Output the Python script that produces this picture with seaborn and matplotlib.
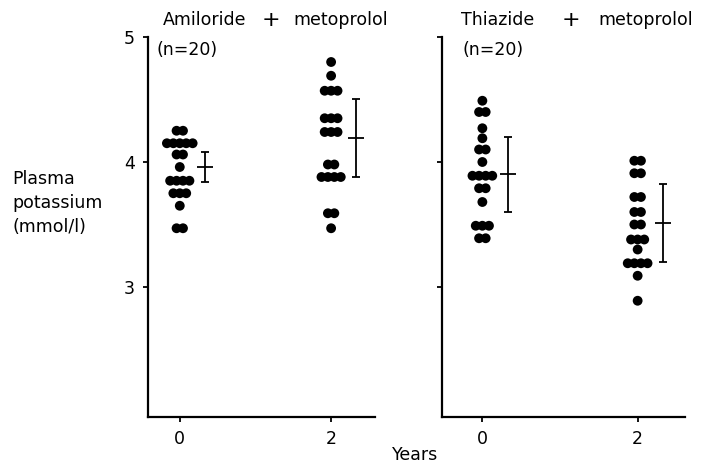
import numpy as np
import pandas as pd
import matplotlib.pyplot as plt
import seaborn as sns

sns.set_theme(style="ticks")
plt.rcParams["font.family"] = ["DejaVu Sans"]
plt.rcParams.update({"text.color": "black", "axes.edgecolor": "black",
                     "xtick.color": "black", "ytick.color": "black",
                     "axes.labelcolor": "black"})

# ---------------------------------------------------------------------------
# data (plasma potassium, mmol/l)
# ---------------------------------------------------------------------------
years = [0, 2]

amil_y0 = [4.25, 4.25, 4.15, 4.15, 4.15, 4.15, 4.15, 4.06, 4.06, 3.96,
           3.85, 3.85, 3.85, 3.85, 3.75, 3.75, 3.75, 3.65, 3.47, 3.47]
amil_y2 = [4.80, 4.69, 4.57, 4.57, 4.57, 4.35, 4.35, 4.35, 4.24, 4.24,
           4.24, 3.98, 3.98, 3.88, 3.88, 3.88, 3.88, 3.59, 3.59, 3.47]
amil_mean = [3.96, 4.19]
amil_sd = [0.12, 0.31]

thia_y0 = [4.49, 4.40, 4.40, 4.27, 4.19, 4.10, 4.10, 4.00, 3.89, 3.89,
           3.89, 3.89, 3.79, 3.79, 3.68, 3.49, 3.49, 3.49, 3.39, 3.39]
thia_y2 = [4.01, 4.01, 3.91, 3.91, 3.72, 3.72, 3.60, 3.60, 3.50, 3.50,
           3.38, 3.38, 3.38, 3.30, 3.19, 3.19, 3.19, 3.19, 3.09, 2.89]
thia_mean = [3.90, 3.51]
thia_sd = [0.30, 0.31]

STEP = 0.085      # spacing of tied dots within a row
BAR_SHIFT = 0.33  # mean +/- sd drawn to the right of the dots


def dot_frame(values, year):
    # tied values sit side by side, centred on the year
    d = pd.DataFrame({"value": values})
    n = d.groupby("value")["value"].transform("size")
    i = d.groupby("value").cumcount()
    d["x"] = year + (i - (n - 1) / 2) * STEP
    return d


W, H = 701, 466
fig = plt.figure(figsize=(W / 100, H / 100), dpi=100)
ax_l = fig.add_axes([148 / W, 1 - 417 / H, 227 / W, 380 / H])
ax_r = fig.add_axes([442 / W, 1 - 417 / H, 243 / W, 380 / H])

panels = [
    (ax_l, amil_y0, amil_y2, amil_mean, amil_sd, (-0.42, 2.58)),
    (ax_r, thia_y0, thia_y2, thia_mean, thia_sd, (-0.52, 2.61)),
]

for ax, y0, y2, means, sds, xlim in panels:
    dots = pd.concat([dot_frame(y0, years[0]), dot_frame(y2, years[1])])
    sns.scatterplot(data=dots, x="x", y="value", color="black", s=50,
                    edgecolor="none", legend=False, ax=ax)
    ax.errorbar(np.array(years) + BAR_SHIFT, means, yerr=sds, fmt="_",
                color="black", ms=12, mew=1.3, elinewidth=1.3,
                capsize=3, capthick=1.3)
    ax.set_xlim(*xlim)
    ax.set_ylim(1.96, 5.0)
    ax.set_xticks(years)
    ax.set_yticks([3, 4, 5])
    ax.set_xlabel("")
    ax.set_ylabel("")
    ax.tick_params(length=3.5, width=1.3, labelsize=12.5, pad=6)
    sns.despine(ax=ax)
    for sp in ("left", "bottom"):
        ax.spines[sp].set_linewidth(1.6)

ax_r.set_yticklabels([])


def ftext(px, py, s, **kw):
    fig.text(px / W, 1 - py / H, s, va="center", **kw)


ftext(163, 20, "Amiloride", fontsize=12.5)
ftext(271, 20, "+", fontsize=16, ha="center")
ftext(293, 20, "metoprolol", fontsize=12.5)
ftext(157, 50, "(n=20)", fontsize=12.5)

ftext(461, 20, "Thiazide", fontsize=12.5)
ftext(571, 20, "+", fontsize=16, ha="center")
ftext(598, 20, "metoprolol", fontsize=12.5)
ftext(462, 50, "(n=20)", fontsize=12.5)

ftext(12, 203, "Plasma\npotassium\n(mmol/l)", fontsize=12.5, linespacing=1.45)
ftext(415, 455, "Years", fontsize=12.5, ha="center")

fig.savefig("out.png", dpi=100)
